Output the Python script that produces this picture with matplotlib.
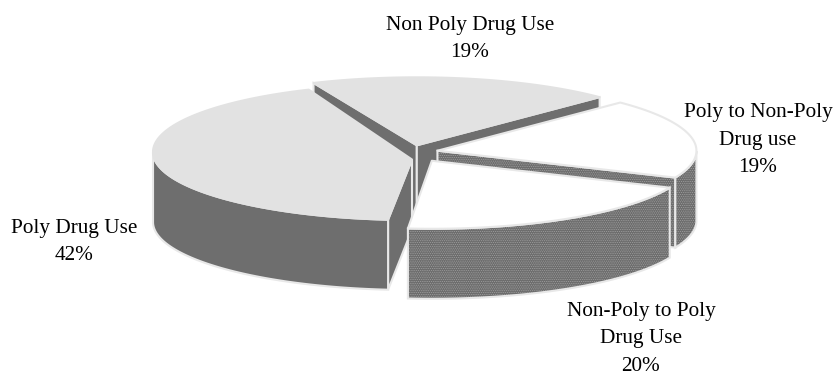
import numpy as np
import matplotlib
matplotlib.use('Agg')
import matplotlib.pyplot as plt
from matplotlib.patches import Polygon

plt.rcParams['font.family'] = ['Liberation Serif', 'DejaVu Serif']
plt.rcParams['hatch.linewidth'] = 0.4

# Slice shares, clockwise from the bottom of the pie
categories = ['Poly Drug Use', 'Non Poly Drug Use', 'Poly to Non-Poly\nDrug use', 'Non-Poly to Poly\nDrug Use']
shares = [42, 19, 19, 20]
explode = [0, 0.1, 0.1, 0.15]

# Pie geometry in pixels
cx, cy = 412, 152
rx, ry = 259, 68
depth = 70
start = 95.3

dark = '#6e6e6e'
top_colors = ['#e2e2e2', '#e2e2e2', 'white', 'white']
edge_colors = ['#e2e2e2', '#e2e2e2', '#e8e8e8', '#e8e8e8']
hatched = [False, False, True, True]
apex_drop = [7.5, 0, 0, 0]

fig = plt.figure(figsize=(8.35, 3.76), dpi=100)
ax = fig.add_axes([0, 0, 1, 1])
ax.set_xlim(0, 835)
ax.set_ylim(376, 0)
ax.axis('off')

# Work out the angular range of each slice
spans = np.array(shares) / sum(shares) * 360
starts = start + np.concatenate([[0], np.cumsum(spans)[:-1]])


def arc_points(x0, y0, a, b):
    t = np.radians(np.linspace(a, b, 120))
    return np.column_stack([x0 + rx * np.cos(t), y0 + ry * np.sin(t)])


def wall(pts, hatch, z):
    # extrude a line of top-face points straight down
    poly = np.vstack([pts, pts[::-1] + [0, depth]])
    if hatch:
        ax.add_patch(Polygon(poly, closed=True, facecolor='#6c6c6c', edgecolor='#a8a8a8',
                             hatch='.........', linewidth=0, zorder=z))
    else:
        ax.add_patch(Polygon(poly, closed=True, facecolor=dark, edgecolor='none', zorder=z))
    ax.add_patch(Polygon(poly, closed=True, facecolor='none', edgecolor='#e8e8e8', linewidth=1.5, zorder=z))


# Back slices first so the nearer ones cover them
order = [1, 2, 0, 3]
for n, i in enumerate(order):
    a, b = starts[i], starts[i] + spans[i]
    mid = np.radians((a + b) / 2)
    x0 = cx + explode[i] * rx * np.cos(mid)
    y0 = cy + explode[i] * ry * np.sin(mid)
    apex = np.array([[x0, y0 + apex_drop[i]]])
    arc = arc_points(x0, y0, a, b)
    z = 2 + n * 5

    # cut faces, only the ones turned towards the viewer
    if np.sin(np.radians(a - 90)) > 0:
        wall(np.vstack([apex, arc[:1]]), hatched[i], z)
    if np.sin(np.radians(b + 90)) > 0:
        wall(np.vstack([apex, arc[-1:]]), hatched[i], z + 1)

    # outer rim, only the part on the near side of the ellipse
    t = np.linspace(a, b, 120) % 360
    front = arc[t < 180]
    if len(front) > 1:
        wall(front, hatched[i], z + 2)

    # top face
    ax.add_patch(Polygon(np.vstack([apex, arc]), closed=True, facecolor=top_colors[i],
                         edgecolor=edge_colors[i], linewidth=1.5, joinstyle='round', zorder=z + 3))

# Labels
label_pos = [(74, 242), (470, 39), (758, 140), (641, 339)]
for name, val, (lx, ly) in zip(categories, shares, label_pos):
    ax.text(lx, ly, f'{name}\n{val}%', ha='center', va='center', fontsize=15.3,
            linespacing=1.63, color='black', zorder=40)

fig.savefig('out.png', dpi=100)
